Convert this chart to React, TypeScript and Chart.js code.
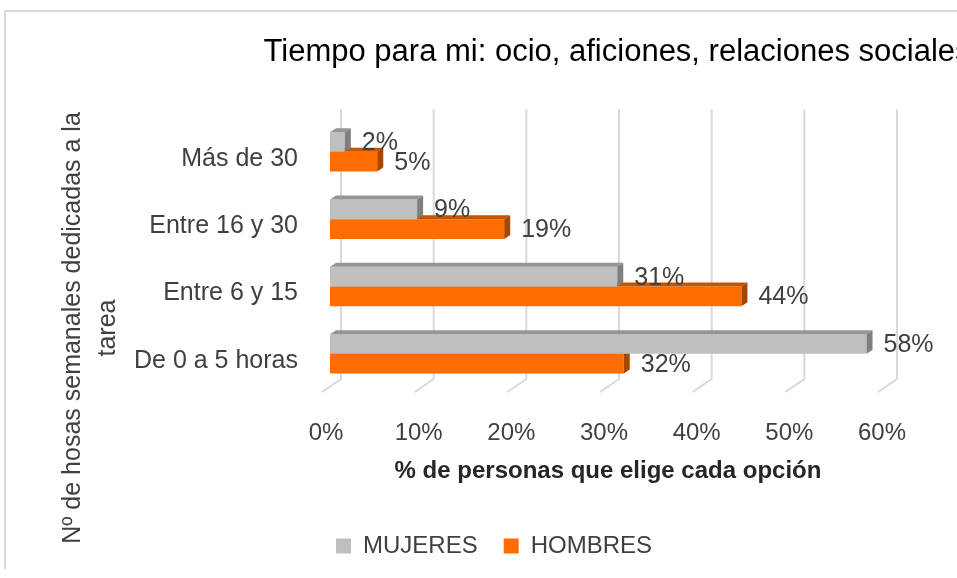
import React, { useEffect, useRef } from 'react';
import { Chart, registerables } from 'chart.js';

Chart.register(...registerables);

// ---- data ----
const categories = ['Más de 30', 'Entre 16 y 30', 'Entre 6 y 15', 'De 0 a 5 horas'];
const seriesNames = ['MUJERES', 'HOMBRES'];
const mujeres = [1.6, 9.4, 31.0, 57.9];
const hombres = [5.1, 18.8, 44.4, 31.7];
const xTicks = [0, 10, 20, 30, 40, 50, 60];
const chartTitle = 'Tiempo para mi: ocio, aficiones, relaciones sociales';
const xTitle = '% de personas que elige cada opción';
const yTitle = ['Nº de hosas semanales dedicadas a la', 'tarea'];

// ---- style ----
const FONT = "'Liberation Sans', Arial, sans-serif";
const frontColors = ['#bfbfbf', '#ff6d00'];
const topColors = ['#959595', '#c45400'];
const sideColors = ['#7f7f7f', '#a84600'];
const gridColor = '#d9d9d9';
const textColor = '#404040';
const DX = 6;
const DY = 4;
const LEG_PAD = 26;
const CANVAS_W = 1222;
const CANVAS_H = 557;

const gridPlugin = {
  id: 'grid3d',
  beforeDatasetsDraw(chart: any) {
    const { ctx, chartArea } = chart;
    const xs = chart.scales.x;
    ctx.save();
    ctx.strokeStyle = gridColor;
    ctx.lineWidth = 2;
    for (const v of xTicks) {
      const bx = xs.getPixelForValue(v) + 11;
      ctx.beginPath();
      ctx.moveTo(bx, chartArea.top - 9);
      ctx.lineTo(bx, chartArea.bottom - 8.5);
      ctx.lineTo(bx - 19, chartArea.bottom + 4.5);
      ctx.stroke();
    }
    ctx.restore();
  },
};

const depthPlugin = {
  id: 'depth3d',
  afterDatasetDraw(chart: any, args: any) {
    const { ctx } = chart;
    const i = args.index;
    const meta = args.meta;
    ctx.save();
    for (const el of meta.data) {
      const p = el.getProps(['x', 'y', 'base', 'height'], true);
      const top = p.y - p.height / 2;
      const bottom = p.y + p.height / 2;
      ctx.fillStyle = topColors[i];
      ctx.beginPath();
      ctx.moveTo(p.base, top);
      ctx.lineTo(p.base + DX, top - DY);
      ctx.lineTo(p.x + DX, top - DY);
      ctx.lineTo(p.x, top);
      ctx.closePath();
      ctx.fill();
      ctx.fillStyle = sideColors[i];
      ctx.beginPath();
      ctx.moveTo(p.x, top);
      ctx.lineTo(p.x + DX, top - DY);
      ctx.lineTo(p.x + DX, bottom - DY);
      ctx.lineTo(p.x, bottom);
      ctx.closePath();
      ctx.fill();
    }
    ctx.restore();
  },
  afterDatasetsDraw(chart: any) {
    const { ctx } = chart;
    ctx.save();
    ctx.font = `25px ${FONT}`;
    ctx.fillStyle = textColor;
    ctx.textAlign = 'left';
    ctx.textBaseline = 'middle';
    chart.data.datasets.forEach((ds: any, i: number) => {
      const meta = chart.getDatasetMeta(i);
      meta.data.forEach((el: any, j: number) => {
        const p = el.getProps(['x', 'y'], true);
        ctx.fillText(Math.round(ds.data[j]) + '%', p.x + 17, p.y + 1);
      });
    });
    ctx.restore();
  },
  afterDraw(chart: any) {
    const { ctx } = chart;
    ctx.save();
    ctx.font = `25px ${FONT}`;
    ctx.fillStyle = textColor;
    ctx.textAlign = 'center';
    ctx.textBaseline = 'middle';
    const xs = [67, 102];
    yTitle.forEach((line, k) => {
      ctx.save();
      ctx.translate(xs[k], 316);
      ctx.rotate(-Math.PI / 2);
      ctx.fillText(line, 0, 0);
      ctx.restore();
    });
    ctx.restore();
  },
  afterLayout(chart: any) {
    const lg = chart.legend;
    if (lg) {
      const h = lg.height;
      lg.left = 330 - LEG_PAD;
      lg.top = 522 - LEG_PAD;
      lg.bottom = lg.top + h;
    }
  },
};

export default function App() {
  const ref = useRef<HTMLCanvasElement>(null);
  useEffect(() => {
    if (!ref.current) return;
    const chart = new Chart(ref.current, {
      type: 'bar',
      data: {
        labels: categories,
        datasets: [
          { label: seriesNames[0], data: mujeres, backgroundColor: frontColors[0], borderWidth: 0 },
          { label: seriesNames[1], data: hombres, backgroundColor: frontColors[1], borderWidth: 0 },
        ],
      },
      options: {
        indexAxis: 'y',
        responsive: false,
        animation: false,
        categoryPercentage: 0.585,
        barPercentage: 1,
        layout: { padding: { left: 0, right: 0, top: 0, bottom: 0 } },
        scales: {
          x: {
            min: 0,
            max: 60,
            afterFit: (s: any) => { s.height = 121.5; },
            afterBuildTicks: (s: any) => { s.ticks = xTicks.map((v) => ({ value: v })); },
            grid: { display: false, drawTicks: false },
            border: { display: false },
            ticks: {
              padding: 31,
              labelOffset: -4,
              color: textColor,
              font: { size: 24, family: FONT },
              callback: (v: any) => v + '%',
            },
            title: {
              display: true,
              text: xTitle,
              color: '#262626',
              font: { size: 24, weight: 'bold', family: FONT },
              padding: { top: 0, bottom: 23.6 },
            },
          },
          y: {
            afterFit: (s: any) => { s.width = 324; },
            grid: { display: false, drawTicks: false },
            border: { display: false },
            ticks: {
              padding: 32,
              labelOffset: 7,
              color: textColor,
              font: { size: 25, family: FONT },
            },
          },
          yRight: {
            type: 'category',
            position: 'right',
            axis: 'y',
            labels: categories,
            afterFit: (s: any) => { s.width = CANVAS_W - 880; },
            grid: { display: false, drawTicks: false },
            border: { display: false },
            ticks: { display: false },
          },
        },
        plugins: {
          title: {
            display: true,
            text: chartTitle,
            color: '#000000',
            font: { size: 31, weight: 'normal', family: FONT },
            padding: { top: 22, bottom: 47 },
          },
          legend: {
            display: true,
            position: 'bottom',
            align: 'start',
            fullSize: false,
            labels: {
              boxWidth: 15,
              boxHeight: 15,
              padding: LEG_PAD,
              color: textColor,
              font: { size: 24, family: FONT },
            },
          },
          tooltip: { enabled: false },
        },
      } as any,
      plugins: [gridPlugin, depthPlugin],
    });
    return () => chart.destroy();
  }, []);

  return (
    <div style={{ position: 'fixed', left: 0, top: 0, width: 957, height: 578, overflow: 'hidden', background: '#ffffff' }}>
      <div
        style={{
          position: 'absolute',
          left: 4,
          top: 10,
          width: CANVAS_W,
          height: CANVAS_H,
          borderLeft: '2px solid #d9d9d9',
          borderTop: '2px solid #d9d9d9',
        }}
      >
        <canvas ref={ref} width={CANVAS_W} height={CANVAS_H} style={{ display: 'block' }} />
      </div>
    </div>
  );
}
